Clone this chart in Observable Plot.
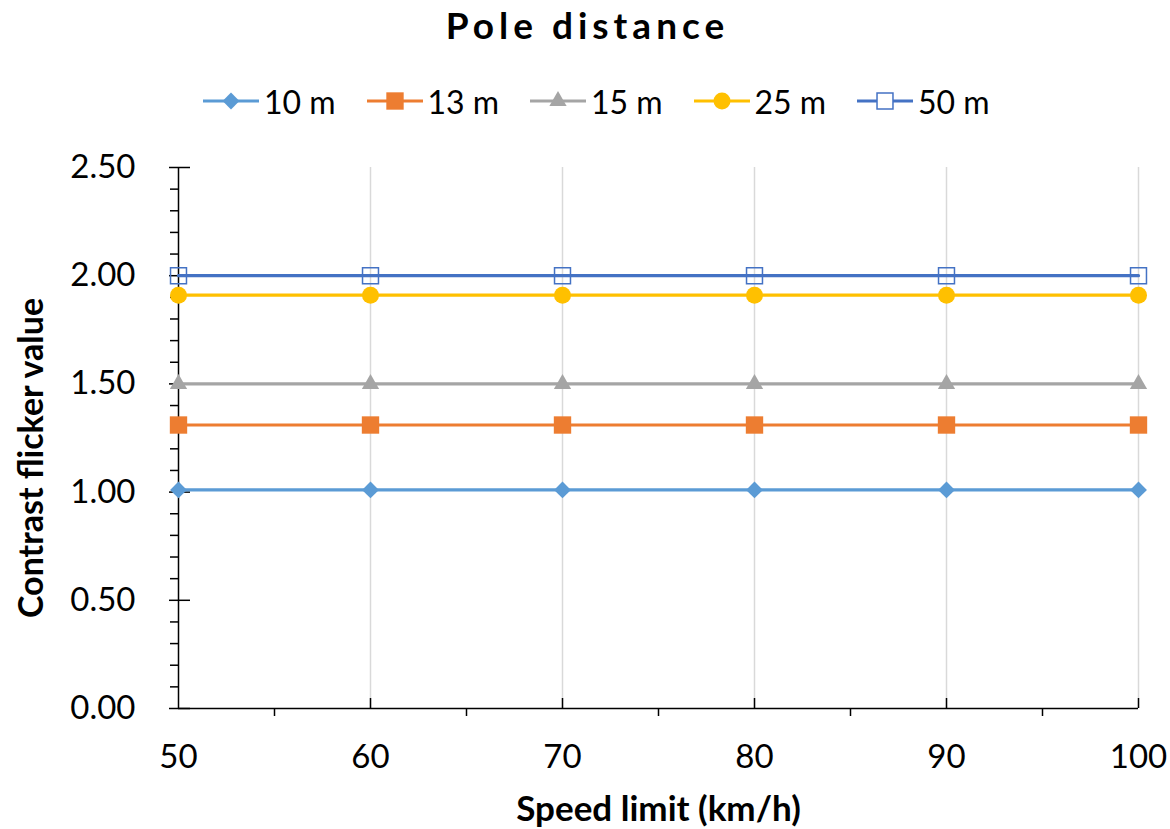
<!DOCTYPE html>
<html>
<head>
<meta charset="utf-8">
<script src="https://cdn.jsdelivr.net/npm/d3@7"></script>
<script src="https://cdn.jsdelivr.net/npm/@observablehq/plot@0.6"></script>
<style>
  body { margin: 0; background: #fff; font-family: Lato, "Open Sans", sans-serif; color: #000; }
  #title { height: 64px; line-height: 50px; text-align: center; font-weight: bold; font-size: 37px; letter-spacing: 5px; padding-left: 5px; }
  #legend { height: 74px; display: flex; align-items: center; padding-left: 203px; box-sizing: border-box; }
  .item { display: flex; align-items: center; width: 163.5px; font-size: 32px; }
  .item svg { margin-right: 5px; }
</style>
</head>
<body>
<div id="title">Pole distance</div>
<div id="legend"></div>
<div id="chart"></div>
<script>
// Speed limits on the x axis
const speeds = [50, 60, 70, 80, 90, 100];

// Pole distance series
const seriesNames = ["10 m", "13 m", "15 m", "25 m", "50 m"];
const seriesColors = ["#5B9BD5", "#ED7D31", "#A5A5A5", "#FFC000", "#4472C4"];
const seriesSymbols = ["diamond2", "square", "triangle", "circle", "square"];
const seriesFilled = [true, true, true, true, false];
const seriesRadius = [7.6, 9.8, 6.4, 8.5, 9.0];

// Contrast flicker value per speed limit
const flicker10 = [1.01, 1.01, 1.01, 1.01, 1.01, 1.01];
const flicker13 = [1.31, 1.31, 1.31, 1.31, 1.31, 1.31];
const flicker15 = [1.50, 1.50, 1.50, 1.50, 1.50, 1.50];
const flicker25 = [1.91, 1.91, 1.91, 1.91, 1.91, 1.91];
const flicker50 = [2.00, 2.00, 2.00, 2.00, 2.00, 2.00];

// Axis ticks
const yMajor = [0, 0.5, 1.0, 1.5, 2.0, 2.5];
const yMinor = d3.range(0, 26).map(i => i / 10).filter(v => !yMajor.some(m => Math.abs(m - v) < 1e-9));
const xLabels = [50, 60, 70, 80, 90, 100];
const xMajor = [60, 70, 80, 90, 100];
const xMinor = [55, 65, 75, 85, 95];

const seriesValues = [flicker10, flicker13, flicker15, flicker25, flicker50];
const rows = seriesNames.flatMap((name, i) =>
  speeds.map((s, j) => ({speed: s, value: seriesValues[i][j], series: name, idx: i}))
);

// Legend: line segment with the series marker, then the label
const legend = d3.select("#legend");
seriesNames.forEach((name, i) => {
  const item = legend.append("div").attr("class", "item");
  const svg = item.append("svg").attr("width", 56).attr("height", 24);
  svg.append("line").attr("x1", 0).attr("x2", 56).attr("y1", 12).attr("y2", 12)
    .attr("stroke", seriesColors[i]).attr("stroke-width", 3);
  const symType = {diamond2: d3.symbolDiamond2, square: d3.symbolSquare, triangle: d3.symbolTriangle, circle: d3.symbolCircle}[seriesSymbols[i]];
  const r = seriesRadius[i];
  svg.append("path")
    .attr("transform", "translate(28,12)")
    .attr("d", d3.symbol(symType, Math.PI * r * r)())
    .attr("fill", seriesFilled[i] ? seriesColors[i] : "white")
    .attr("stroke", seriesFilled[i] ? "none" : seriesColors[i])
    .attr("stroke-width", 1.5);
  item.append("span").text(name);
});

const chart = Plot.plot({
  width: 1170,
  height: 691,
  marginTop: 29,
  marginBottom: 121,
  marginLeft: 178,
  marginRight: 32,
  style: {fontFamily: "Lato, 'Open Sans', sans-serif", fontSize: "33px", color: "#000", background: "#fff"},
  x: {domain: [50, 100]},
  y: {domain: [0, 2.5]},
  marks: [
    Plot.gridX(xMajor, {stroke: "#d9d9d9", strokeOpacity: 1, strokeWidth: 1.5}),
    Plot.ruleX([50], {stroke: "#000", strokeWidth: 1.5}),
    Plot.ruleY([0], {stroke: "#000", strokeWidth: 1.5}),
    // y axis: labels, crossing major ticks, outer minor ticks
    Plot.axisY({ticks: yMajor, tickSize: 0, tickPadding: 43, tickFormat: d => d.toFixed(2), label: null, fontSize: 33}),
    Plot.axisY({ticks: yMajor, tickSize: 9, tickFormat: () => "", label: null, strokeWidth: 1.5}),
    Plot.axisY({ticks: yMajor, tickSize: -12, tickFormat: () => "", label: null, strokeWidth: 1.5}),
    Plot.axisY({ticks: yMinor, tickSize: 8, tickFormat: () => "", label: null, strokeWidth: 1.5}),
    // x axis: labels, inner major ticks, outer minor ticks
    Plot.axisX({ticks: xLabels, tickSize: 0, tickPadding: 36, label: null, fontSize: 33, style: {letterSpacing: "2px"}}),
    Plot.axisX({ticks: xMajor, tickSize: -10, tickFormat: () => "", label: null, strokeWidth: 1.5}),
    Plot.axisX({ticks: xMinor, tickSize: 8, tickFormat: () => "", label: null, strokeWidth: 1.5}),
    // series lines and markers
    ...seriesNames.map((name, i) =>
      Plot.line(rows.filter(d => d.idx === i), {x: "speed", y: "value", stroke: seriesColors[i], strokeWidth: 3.2})
    ),
    ...seriesNames.map((name, i) =>
      Plot.dot(rows.filter(d => d.idx === i), {
        x: "speed", y: "value",
        symbol: () => seriesSymbols[i],
        r: seriesRadius[i],
        fill: seriesFilled[i] ? seriesColors[i] : "none",
        stroke: seriesFilled[i] ? "none" : seriesColors[i],
        strokeWidth: 1.5
      })
    ),
    // axis titles
    Plot.text(["Speed limit (km/h)"], {frameAnchor: "bottom", dy: 112, fontWeight: "bold", fontSize: 35}),
    Plot.text(["Contrast flicker value"], {frameAnchor: "left", textAnchor: "middle", dx: -146, dy: 20, rotate: -90, fontWeight: "bold", fontSize: 34})
  ]
});
document.getElementById("chart").appendChild(chart);
</script>
</body>
</html>
